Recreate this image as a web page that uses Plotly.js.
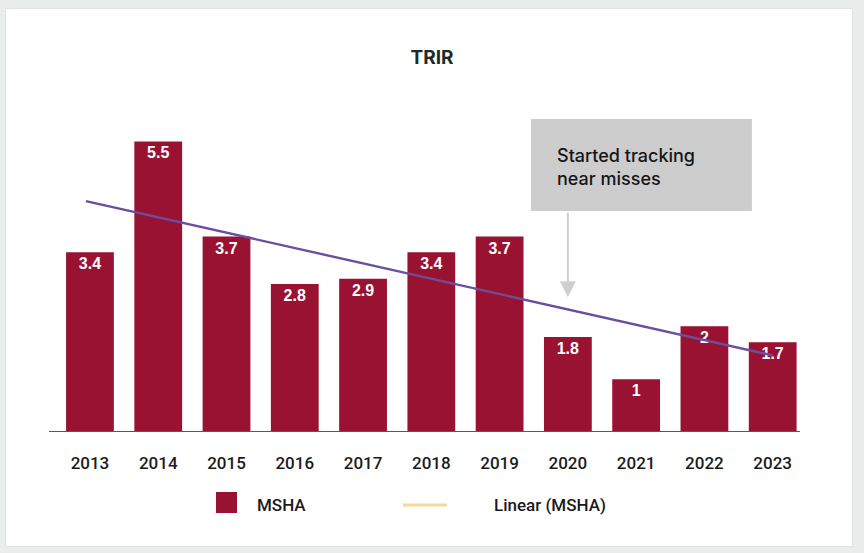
<!DOCTYPE html>
<html>
<head>
<meta charset="utf-8">
<script src="https://cdn.plot.ly/plotly-3.0.1.min.js"></script>
<style>
  html, body { margin: 0; padding: 0; background: #e9eeec; }
  #frame { position: absolute; left: 5px; top: 8px; width: 846px; height: 537px; background: #fff; border: 1px solid #dde5e2; }
  #trir { position: absolute; left: 0; top: 0; width: 864px; height: 553px; }
</style>
</head>
<body>
<div id="frame"></div>
<div id="trir"></div>
<script>
// TRIR by year
var years = [2013, 2014, 2015, 2016, 2017, 2018, 2019, 2020, 2021, 2022, 2023];
var trir = [3.4, 5.5, 3.7, 2.8, 2.9, 3.4, 3.7, 1.8, 1, 2, 1.7];
var labels = ['3.4', '5.5', '3.7', '2.8', '2.9', '3.4', '3.7', '1.8', '1', '2', '1.7'];

// linear trend line ends
var trendYears = [2012.94, 2023];
var trendVals = [4.37, 1.45];

var barName = 'MSHA';
var trendName = 'Linear (MSHA)';
var barColor = '#9a1232';

var bars = {
    x: years,
    y: trir,
    type: 'bar',
    name: barName,
    width: 0.7,
    marker: {color: barColor},
    text: labels,
    textposition: 'inside',
    insidetextanchor: 'end',
    textangle: 0,
    textfont: {family: 'Liberation Sans, Arial, sans-serif', size: 16, color: '#ffffff', weight: 'bold'},
    showlegend: false
};

var trend = {
    x: trendYears,
    y: trendVals,
    mode: 'lines',
    name: trendName,
    line: {color: '#6b4ea0', width: 2.4},
    showlegend: false
};

var legendFont = {family: 'Roboto, Liberation Sans, sans-serif', size: 17, color: '#1a1a1a', weight: 500};

var layout = {
    width: 864,
    height: 553,
    paper_bgcolor: 'rgba(0,0,0,0)',
    plot_bgcolor: 'rgba(0,0,0,0)',
    margin: {l: 49, r: 64, t: 115, b: 121},
    title: {
        text: '<b>TRIR</b>',
        x: 0.5, xanchor: 'center',
        y: 0.897, yanchor: 'middle',
        font: {family: 'Inter, Liberation Sans, sans-serif', size: 19, color: '#1d2a2a'}
    },
    xaxis: {
        range: [2012.4, 2023.4],
        tickmode: 'array',
        tickvals: years,
        ticktext: years.map(String),
        showgrid: false,
        zeroline: false,
        showline: false,
        ticks: '',
        ticklabelstandoff: 19,
        tickfont: {family: 'Roboto, Liberation Sans, sans-serif', size: 17, color: '#1b1b1b', weight: 500},
        fixedrange: true
    },
    yaxis: {
        range: [0, 6],
        showgrid: false,
        zeroline: false,
        showline: false,
        showticklabels: false,
        ticks: '',
        fixedrange: true
    },
    shapes: [
        // baseline
        {type: 'line', xref: 'paper', yref: 'y', x0: 0, x1: 1, y0: 0, y1: 0,
         line: {color: '#2f6b6b', width: 2}},
        // callout box
        {type: 'rect', xref: 'paper', yref: 'paper', x0: 0.6418, x1: 0.936, y0: 0.987, y1: 0.697,
         fillcolor: '#cdcdcd', line: {width: 0}, layer: 'below'},
        // legend keys
        {type: 'rect', xref: 'paper', yref: 'paper', x0: 0.2224, x1: 0.2503, y0: -0.1893, y1: -0.2555,
         fillcolor: barColor, line: {width: 0}},
        {type: 'line', xref: 'paper', yref: 'paper', x0: 0.4714, x1: 0.530, y0: -0.2303, y1: -0.2303,
         line: {color: '#f0dc96', width: 3}}
    ],
    annotations: [
        {xref: 'paper', yref: 'paper', x: 0.674, y: 0.913, xanchor: 'left', yanchor: 'top',
         text: 'Started tracking<br>near misses', align: 'left', showarrow: false,
         font: {family: 'Inter, Liberation Sans, sans-serif', size: 18, color: '#151515', weight: 500}},
        {x: 2020, y: 2.55, ax: 2020, ay: 4.18, axref: 'x', ayref: 'y', xref: 'x', yref: 'y',
         text: '', showarrow: true, arrowhead: 2, arrowsize: 1.6, arrowwidth: 2,
         arrowcolor: '#cfcfcf', standoff: 0, startstandoff: 0},
        {xref: 'paper', yref: 'paper', x: 0.2743, y: -0.2303, xanchor: 'left', yanchor: 'middle',
         text: barName, showarrow: false, font: legendFont},
        {xref: 'paper', yref: 'paper', x: 0.5899, y: -0.2303, xanchor: 'left', yanchor: 'middle',
         text: trendName, showarrow: false, font: legendFont}
    ],
    showlegend: false,
    bargap: 0.3
};

Plotly.newPlot('trir', [bars, trend], layout, {displayModeBar: false, staticPlot: true});
</script>
</body>
</html>
